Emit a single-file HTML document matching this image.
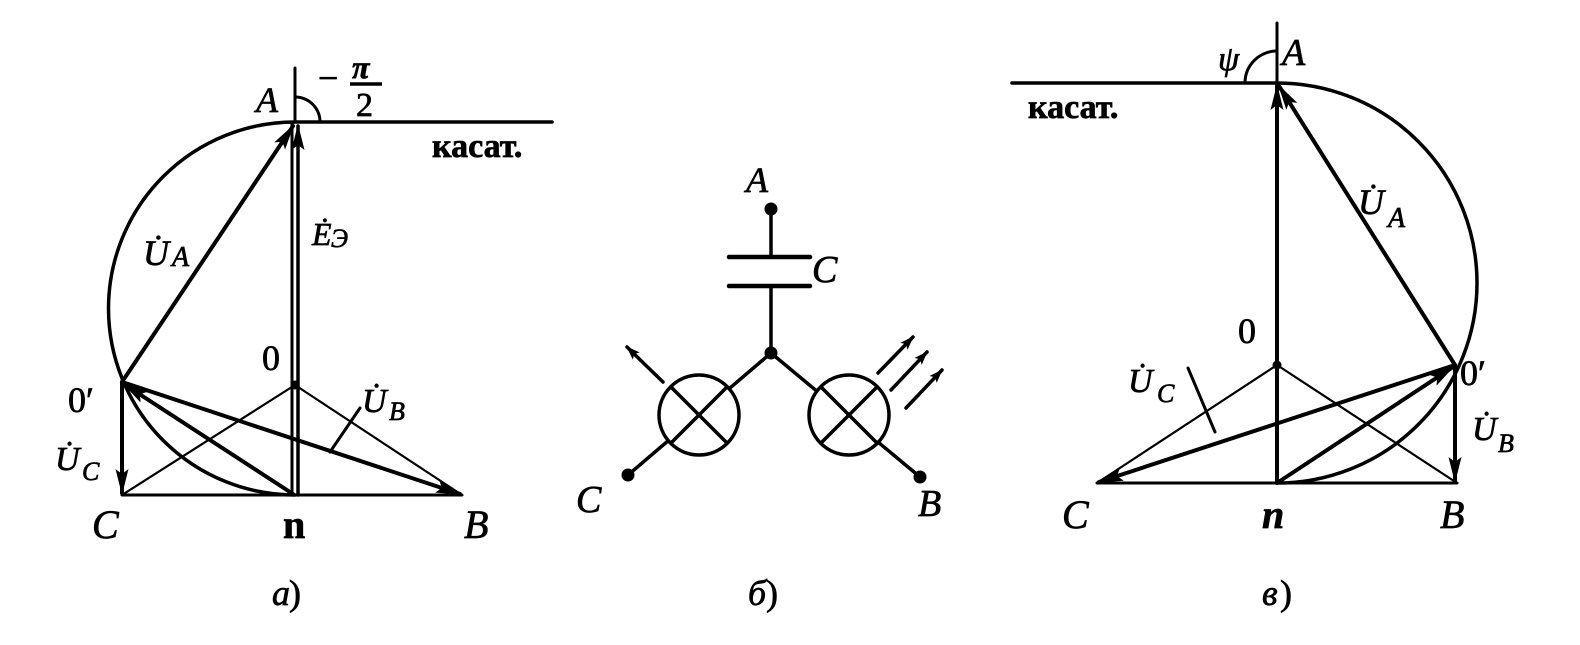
<!DOCTYPE html>
<html><head><meta charset="utf-8"><style>
html,body{margin:0;padding:0;background:#fff}
svg{display:block}
text{font-family:"Liberation Serif",serif;fill:#000;stroke:#000;stroke-width:0.7}
.i{font-style:italic}
</style></head><body>
<svg width="1580" height="645" viewBox="0 0 1580 645" xmlns="http://www.w3.org/2000/svg">
<defs>
<marker id="ar" markerWidth="14" markerHeight="10" refX="13" refY="5" orient="auto" markerUnits="userSpaceOnUse">
<path d="M0,0 L14,5 L0,10 L3,5 Z" fill="#000"/></marker>
<marker id="ar2" markerWidth="26" markerHeight="13" refX="24" refY="6.5" orient="auto" markerUnits="userSpaceOnUse">
<path d="M0,0 L26,6.5 L0,13 L5,6.5 Z" fill="#000"/></marker>
</defs>
<g stroke="#000" fill="none" stroke-linecap="round">
<!-- LEFT a) -->
<line x1="295" y1="68" x2="295" y2="122" stroke-width="3"/>
<line x1="295" y1="122" x2="552" y2="122" stroke-width="3.5"/>
<path d="M295,97 A25,25 0 0 1 320,122" stroke-width="3"/>
<path d="M295,122 A186,186 0 0 0 295,495" stroke-width="3.5"/>
<line x1="122" y1="495" x2="462" y2="495" stroke-width="3"/>
<line x1="122" y1="495" x2="295" y2="385" stroke-width="2.2"/>
<line x1="295" y1="385" x2="462" y2="495" stroke-width="2.2"/>
<line x1="292" y1="495" x2="292" y2="124" stroke-width="3"/>
<line x1="298" y1="495" x2="298" y2="126" stroke-width="3.5" marker-end="url(#ar2)"/>
<line x1="122" y1="382" x2="293" y2="126" stroke-width="4" marker-end="url(#ar2)"/>
<line x1="122" y1="382" x2="122" y2="493" stroke-width="4" marker-end="url(#ar2)"/>
<line x1="293" y1="494" x2="124" y2="384" stroke-width="4" marker-end="url(#ar2)"/>
<line x1="122" y1="382" x2="460" y2="494" stroke-width="4" marker-end="url(#ar2)"/>
<line x1="330" y1="452" x2="360" y2="408" stroke-width="3"/>
<circle cx="295" cy="385" r="4" fill="#000"/>
<!-- RIGHT в) -->
<line x1="1277" y1="23" x2="1277" y2="83" stroke-width="3"/>
<line x1="1012" y1="83" x2="1277" y2="83" stroke-width="3.5"/>
<path d="M1277,51 A32,32 0 0 0 1245,83" stroke-width="3"/>
<path d="M1277,83 A200,200 0 0 1 1277,483" stroke-width="3.5"/>
<line x1="1097" y1="483" x2="1457" y2="483" stroke-width="3"/>
<line x1="1097" y1="483" x2="1277" y2="365" stroke-width="2.2"/>
<line x1="1277" y1="365" x2="1457" y2="483" stroke-width="2.2"/>
<line x1="1277" y1="483" x2="1277" y2="86" stroke-width="4" marker-end="url(#ar2)"/>
<line x1="1455" y1="365" x2="1279" y2="86" stroke-width="4" marker-end="url(#ar2)"/>
<line x1="1455" y1="365" x2="1455" y2="481" stroke-width="4" marker-end="url(#ar2)"/>
<line x1="1277" y1="483" x2="1453" y2="367" stroke-width="4" marker-end="url(#ar2)"/>
<line x1="1455" y1="365" x2="1099" y2="482" stroke-width="4" marker-end="url(#ar2)"/>
<line x1="1188" y1="368" x2="1215" y2="432" stroke-width="3"/>
<circle cx="1277" cy="365" r="4" fill="#000"/>
<!-- MIDDLE б) -->
<line x1="771" y1="209" x2="771" y2="257" stroke-width="3.5"/>
<line x1="729" y1="257" x2="810" y2="257" stroke-width="4.5"/>
<line x1="729" y1="286" x2="810" y2="286" stroke-width="4.5"/>
<line x1="771" y1="286" x2="771" y2="353" stroke-width="3.5"/>
<line x1="771" y1="353" x2="628" y2="475" stroke-width="3.5"/>
<line x1="771" y1="353" x2="920" y2="477" stroke-width="3.5"/>
<circle cx="699" cy="415" r="40" stroke-width="3.5" fill="#fff"/>
<circle cx="849" cy="415" r="40" stroke-width="3.5" fill="#fff"/>
<line x1="671" y1="387" x2="727" y2="443" stroke-width="3.5"/>
<line x1="727" y1="387" x2="671" y2="443" stroke-width="3.5"/>
<line x1="821" y1="387" x2="877" y2="443" stroke-width="3.5"/>
<line x1="877" y1="387" x2="821" y2="443" stroke-width="3.5"/>
<line x1="663" y1="382" x2="627" y2="347" stroke-width="3.5" marker-end="url(#ar)"/>
<line x1="878" y1="373" x2="913" y2="337" stroke-width="3.5" marker-end="url(#ar)"/>
<line x1="891" y1="390" x2="927" y2="352" stroke-width="3.5" marker-end="url(#ar)"/>
<line x1="906" y1="408" x2="942" y2="370" stroke-width="3.5" marker-end="url(#ar)"/>
</g>
<g fill="#000">
<circle cx="771" cy="209" r="6.5"/>
<circle cx="771" cy="353" r="6.5"/>
<circle cx="628" cy="475" r="6.5"/>
<circle cx="920" cy="477" r="6.5"/>
</g>
<!-- Left labels -->
<text x="256" y="112" font-size="36" class="i">A</text>
<text x="318" y="90" font-size="36">−</text>
<text x="352" y="78" font-size="32" class="i" font-weight="bold">π</text>
<line x1="350" y1="84" x2="382" y2="84" stroke="#000" stroke-width="3.5"/>
<text x="356" y="116" font-size="34">2</text>
<text x="432" y="157" font-size="34" font-weight="bold">касат.</text>
<text x="143" y="265" font-size="36" class="i">U̇</text><text x="172" y="266" font-size="28" class="i">A</text>
<text x="312" y="245" font-size="32" class="i">Ė</text><text x="331" y="247" font-size="26" class="i">Э</text>
<text x="262" y="370" font-size="36">0</text>
<text x="68" y="412" font-size="36">0′</text>
<text x="55" y="470" font-size="34" class="i">U̇</text><text x="82" y="480" font-size="26" class="i">C</text>
<text x="362" y="412" font-size="34" class="i">U̇</text><text x="389" y="420" font-size="26" class="i">B</text>
<text x="92" y="538" font-size="40" class="i">C</text>
<text x="283" y="538" font-size="40" font-weight="bold">n</text>
<text x="464" y="538" font-size="40" class="i">B</text>
<text x="272" y="605" font-size="36" class="i">a</text><text x="289" y="605" font-size="36">)</text>
<!-- Middle labels -->
<text x="746" y="192" font-size="36" class="i">A</text>
<text x="812" y="282" font-size="38" class="i">C</text>
<text x="576" y="512" font-size="38" class="i">C</text>
<text x="918" y="516" font-size="38" class="i">B</text>
<text x="748" y="605" font-size="36" class="i">б</text><text x="766" y="605" font-size="36">)</text>
<!-- Right labels -->
<text x="1218" y="70" font-size="34" class="i">ψ</text>
<text x="1282" y="65" font-size="38" class="i">A</text>
<text x="1028" y="118" font-size="34" font-weight="bold">касат.</text>
<text x="1358" y="214" font-size="36" class="i">U̇</text><text x="1388" y="227" font-size="28" class="i">A</text>
<text x="1238" y="343" font-size="36">0</text>
<text x="1460" y="385" font-size="36">0′</text>
<text x="1128" y="392" font-size="34" class="i">U̇</text><text x="1157" y="402" font-size="26" class="i">C</text>
<text x="1472" y="440" font-size="34" class="i">U̇</text><text x="1498" y="452" font-size="26" class="i">B</text>
<text x="1062" y="528" font-size="40" class="i">C</text>
<text x="1262" y="528" font-size="40" class="i" font-weight="bold">n</text>
<text x="1440" y="528" font-size="40" class="i">B</text>
<text x="1262" y="605" font-size="36" class="i">в</text><text x="1280" y="605" font-size="36">)</text>
</svg>
</body></html>
